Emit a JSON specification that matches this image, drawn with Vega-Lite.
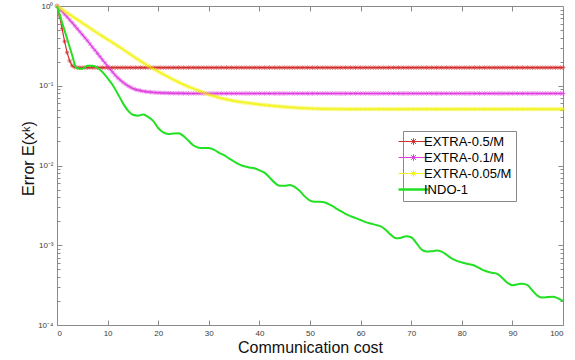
{
  "$schema": "https://vega.github.io/schema/vega-lite/v6.json",
  "width": 506,
  "height": 319,
  "autosize": {"type": "none"},
  "padding": {"left": 57, "top": 6, "right": 12, "bottom": 35},
  "background": "white",
  "config": {
    "view": {"stroke": "#8a8a8a", "strokeWidth": 1},
    "axis": {
      "grid": false,
      "domain": false,
      "tickColor": "#8a8a8a",
      "labelColor": "#3a3a3a",
      "labelFont": "Liberation Sans",
      "titleFont": "Liberation Sans",
      "titleFontWeight": "normal",
      "titleColor": "#111111"
    }
  },
  "datasets": {
    "extra": [
      {"x":0,"a":1,"b":1,"c":1},
      {"x":0.5,"a":0.75,"b":0.925,"c":0.952},
      {"x":1,"a":0.52,"b":0.855,"c":0.907},
      {"x":1.5,"a":0.36,"b":0.789,"c":0.863},
      {"x":2,"a":0.26,"b":0.728,"c":0.822},
      {"x":2.5,"a":0.205,"b":0.67,"c":0.783},
      {"x":3,"a":0.178,"b":0.617,"c":0.746},
      {"x":3.5,"a":0.171,"b":0.566,"c":0.71},
      {"x":4,"a":0.169,"b":0.519,"c":0.676},
      {"x":4.5,"a":0.169,"b":0.476,"c":0.644},
      {"x":5,"a":0.169,"b":0.437,"c":0.613},
      {"x":5.5,"a":0.169,"b":0.4,"c":0.583},
      {"x":6,"a":0.169,"b":0.367,"c":0.556},
      {"x":6.5,"a":0.169,"b":0.335,"c":0.53},
      {"x":7,"a":0.169,"b":0.305,"c":0.504},
      {"x":7.5,"a":0.169,"b":0.279,"c":0.48},
      {"x":8,"a":0.169,"b":0.254,"c":0.457},
      {"x":8.5,"a":0.169,"b":0.232,"c":0.437},
      {"x":9,"a":0.169,"b":0.211,"c":0.417},
      {"x":9.5,"a":0.169,"b":0.193,"c":0.398},
      {"x":10,"a":0.169,"b":0.176,"c":0.38},
      {"x":10.5,"a":0.169,"b":0.161,"c":0.363},
      {"x":11,"a":0.169,"b":0.148,"c":0.347},
      {"x":11.5,"a":0.169,"b":0.136,"c":0.331},
      {"x":12,"a":0.169,"b":0.126,"c":0.316},
      {"x":12.5,"a":0.169,"b":0.118,"c":0.301},
      {"x":13,"a":0.169,"b":0.111,"c":0.287},
      {"x":13.5,"a":0.169,"b":0.105,"c":0.273},
      {"x":14,"a":0.169,"b":0.1,"c":0.26},
      {"x":14.5,"a":0.169,"b":0.0959,"c":0.248},
      {"x":15,"a":0.169,"b":0.0923,"c":0.236},
      {"x":15.5,"a":0.169,"b":0.0899,"c":0.224},
      {"x":16,"a":0.169,"b":0.0881,"c":0.214},
      {"x":16.5,"a":0.169,"b":0.0867,"c":0.204},
      {"x":17,"a":0.169,"b":0.0855,"c":0.195},
      {"x":17.5,"a":0.169,"b":0.0845,"c":0.186},
      {"x":18,"a":0.169,"b":0.0838,"c":0.178},
      {"x":18.5,"a":0.169,"b":0.0832,"c":0.171},
      {"x":19,"a":0.169,"b":0.0826,"c":0.164},
      {"x":19.5,"a":0.169,"b":0.0822,"c":0.158},
      {"x":20,"a":0.169,"b":0.0818,"c":0.151},
      {"x":20.5,"a":0.169,"b":0.0815,"c":0.145},
      {"x":21,"a":0.169,"b":0.0813,"c":0.14},
      {"x":21.5,"a":0.169,"b":0.0811,"c":0.134},
      {"x":22,"a":0.169,"b":0.0809,"c":0.129},
      {"x":22.5,"a":0.169,"b":0.0807,"c":0.124},
      {"x":23,"a":0.169,"b":0.0805,"c":0.119},
      {"x":23.5,"a":0.169,"b":0.0805,"c":0.115},
      {"x":24,"a":0.169,"b":0.0804,"c":0.111},
      {"x":24.5,"a":0.169,"b":0.0803,"c":0.107},
      {"x":25,"a":0.169,"b":0.0802,"c":0.1035},
      {"x":25.5,"a":0.169,"b":0.0801,"c":0.1003},
      {"x":26,"a":0.169,"b":0.08,"c":0.0973},
      {"x":26.5,"a":0.169,"b":0.08,"c":0.0945},
      {"x":27,"a":0.169,"b":0.08,"c":0.0918},
      {"x":27.5,"a":0.169,"b":0.08,"c":0.0894},
      {"x":28,"a":0.169,"b":0.08,"c":0.0871},
      {"x":28.5,"a":0.169,"b":0.08,"c":0.0843},
      {"x":29,"a":0.169,"b":0.08,"c":0.0817},
      {"x":29.5,"a":0.169,"b":0.08,"c":0.0796},
      {"x":30,"a":0.169,"b":0.08,"c":0.0776},
      {"x":30.5,"a":0.169,"b":0.08,"c":0.0759},
      {"x":31,"a":0.169,"b":0.08,"c":0.0741},
      {"x":31.5,"a":0.169,"b":0.08,"c":0.0726},
      {"x":32,"a":0.169,"b":0.08,"c":0.0711},
      {"x":32.5,"a":0.169,"b":0.08,"c":0.0698},
      {"x":33,"a":0.169,"b":0.08,"c":0.0685},
      {"x":33.5,"a":0.169,"b":0.08,"c":0.0675},
      {"x":34,"a":0.169,"b":0.08,"c":0.0664},
      {"x":34.5,"a":0.169,"b":0.08,"c":0.0654},
      {"x":35,"a":0.169,"b":0.08,"c":0.0644},
      {"x":35.5,"a":0.169,"b":0.08,"c":0.0637},
      {"x":36,"a":0.169,"b":0.08,"c":0.063},
      {"x":36.5,"a":0.169,"b":0.08,"c":0.0623},
      {"x":37,"a":0.169,"b":0.08,"c":0.0617},
      {"x":37.5,"a":0.169,"b":0.08,"c":0.0611},
      {"x":38,"a":0.169,"b":0.08,"c":0.0605},
      {"x":38.5,"a":0.169,"b":0.08,"c":0.06},
      {"x":39,"a":0.169,"b":0.08,"c":0.0594},
      {"x":39.5,"a":0.169,"b":0.08,"c":0.0589},
      {"x":40,"a":0.169,"b":0.08,"c":0.0583},
      {"x":40.5,"a":0.169,"b":0.08,"c":0.0579},
      {"x":41,"a":0.169,"b":0.08,"c":0.0574},
      {"x":41.5,"a":0.169,"b":0.08,"c":0.0569},
      {"x":42,"a":0.169,"b":0.08,"c":0.0565},
      {"x":42.5,"a":0.169,"b":0.08,"c":0.0561},
      {"x":43,"a":0.169,"b":0.08,"c":0.0557},
      {"x":43.5,"a":0.169,"b":0.08,"c":0.0553},
      {"x":44,"a":0.169,"b":0.08,"c":0.055},
      {"x":44.5,"a":0.169,"b":0.08,"c":0.0546},
      {"x":45,"a":0.169,"b":0.08,"c":0.0543},
      {"x":45.5,"a":0.169,"b":0.08,"c":0.054},
      {"x":46,"a":0.169,"b":0.08,"c":0.0537},
      {"x":46.5,"a":0.169,"b":0.08,"c":0.0535},
      {"x":47,"a":0.169,"b":0.08,"c":0.0532},
      {"x":47.5,"a":0.169,"b":0.08,"c":0.0528},
      {"x":48,"a":0.169,"b":0.08,"c":0.0526},
      {"x":48.5,"a":0.169,"b":0.08,"c":0.0524},
      {"x":49,"a":0.169,"b":0.08,"c":0.0522},
      {"x":49.5,"a":0.169,"b":0.08,"c":0.0521},
      {"x":50,"a":0.169,"b":0.08,"c":0.0519},
      {"x":50.5,"a":0.169,"b":0.08,"c":0.0518},
      {"x":51,"a":0.169,"b":0.08,"c":0.0516},
      {"x":51.5,"a":0.169,"b":0.08,"c":0.0515},
      {"x":52,"a":0.169,"b":0.08,"c":0.0514},
      {"x":52.5,"a":0.169,"b":0.08,"c":0.0513},
      {"x":53,"a":0.169,"b":0.08,"c":0.0513},
      {"x":53.5,"a":0.169,"b":0.08,"c":0.0512},
      {"x":54,"a":0.169,"b":0.08,"c":0.0512},
      {"x":54.5,"a":0.169,"b":0.08,"c":0.0511},
      {"x":55,"a":0.169,"b":0.08,"c":0.0511},
      {"x":55.5,"a":0.169,"b":0.08,"c":0.051},
      {"x":56,"a":0.169,"b":0.08,"c":0.0509},
      {"x":56.5,"a":0.169,"b":0.08,"c":0.0509},
      {"x":57,"a":0.169,"b":0.08,"c":0.0509},
      {"x":57.5,"a":0.169,"b":0.08,"c":0.0509},
      {"x":58,"a":0.169,"b":0.08,"c":0.0509},
      {"x":58.5,"a":0.169,"b":0.08,"c":0.0509},
      {"x":59,"a":0.169,"b":0.08,"c":0.0509},
      {"x":59.5,"a":0.169,"b":0.08,"c":0.0509},
      {"x":60,"a":0.169,"b":0.08,"c":0.0509},
      {"x":60.5,"a":0.169,"b":0.08,"c":0.0509},
      {"x":61,"a":0.169,"b":0.08,"c":0.0509},
      {"x":61.5,"a":0.169,"b":0.08,"c":0.0509},
      {"x":62,"a":0.169,"b":0.08,"c":0.0509},
      {"x":62.5,"a":0.169,"b":0.08,"c":0.0509},
      {"x":63,"a":0.169,"b":0.08,"c":0.0509},
      {"x":63.5,"a":0.169,"b":0.08,"c":0.0509},
      {"x":64,"a":0.169,"b":0.08,"c":0.0509},
      {"x":64.5,"a":0.169,"b":0.08,"c":0.0509},
      {"x":65,"a":0.169,"b":0.08,"c":0.0509},
      {"x":65.5,"a":0.169,"b":0.08,"c":0.0509},
      {"x":66,"a":0.169,"b":0.08,"c":0.0509},
      {"x":66.5,"a":0.169,"b":0.08,"c":0.0509},
      {"x":67,"a":0.169,"b":0.08,"c":0.0509},
      {"x":67.5,"a":0.169,"b":0.08,"c":0.0509},
      {"x":68,"a":0.169,"b":0.08,"c":0.0509},
      {"x":68.5,"a":0.169,"b":0.08,"c":0.0509},
      {"x":69,"a":0.169,"b":0.08,"c":0.0509},
      {"x":69.5,"a":0.169,"b":0.08,"c":0.0509},
      {"x":70,"a":0.169,"b":0.08,"c":0.0509},
      {"x":70.5,"a":0.169,"b":0.08,"c":0.0509},
      {"x":71,"a":0.169,"b":0.08,"c":0.0509},
      {"x":71.5,"a":0.169,"b":0.08,"c":0.0509},
      {"x":72,"a":0.169,"b":0.08,"c":0.0509},
      {"x":72.5,"a":0.169,"b":0.08,"c":0.0509},
      {"x":73,"a":0.169,"b":0.08,"c":0.0509},
      {"x":73.5,"a":0.169,"b":0.08,"c":0.0509},
      {"x":74,"a":0.169,"b":0.08,"c":0.0509},
      {"x":74.5,"a":0.169,"b":0.08,"c":0.0509},
      {"x":75,"a":0.169,"b":0.08,"c":0.0509},
      {"x":75.5,"a":0.169,"b":0.08,"c":0.0509},
      {"x":76,"a":0.169,"b":0.08,"c":0.0509},
      {"x":76.5,"a":0.169,"b":0.08,"c":0.0509},
      {"x":77,"a":0.169,"b":0.08,"c":0.0509},
      {"x":77.5,"a":0.169,"b":0.08,"c":0.0509},
      {"x":78,"a":0.169,"b":0.08,"c":0.0509},
      {"x":78.5,"a":0.169,"b":0.08,"c":0.0509},
      {"x":79,"a":0.169,"b":0.08,"c":0.0509},
      {"x":79.5,"a":0.169,"b":0.08,"c":0.0509},
      {"x":80,"a":0.169,"b":0.08,"c":0.0509},
      {"x":80.5,"a":0.169,"b":0.08,"c":0.0509},
      {"x":81,"a":0.169,"b":0.08,"c":0.0509},
      {"x":81.5,"a":0.169,"b":0.08,"c":0.0509},
      {"x":82,"a":0.169,"b":0.08,"c":0.0509},
      {"x":82.5,"a":0.169,"b":0.08,"c":0.0509},
      {"x":83,"a":0.169,"b":0.08,"c":0.0509},
      {"x":83.5,"a":0.169,"b":0.08,"c":0.0509},
      {"x":84,"a":0.169,"b":0.08,"c":0.0509},
      {"x":84.5,"a":0.169,"b":0.08,"c":0.0509},
      {"x":85,"a":0.169,"b":0.08,"c":0.0509},
      {"x":85.5,"a":0.169,"b":0.08,"c":0.0509},
      {"x":86,"a":0.169,"b":0.08,"c":0.0509},
      {"x":86.5,"a":0.169,"b":0.08,"c":0.0509},
      {"x":87,"a":0.169,"b":0.08,"c":0.0509},
      {"x":87.5,"a":0.169,"b":0.08,"c":0.0509},
      {"x":88,"a":0.169,"b":0.08,"c":0.0509},
      {"x":88.5,"a":0.169,"b":0.08,"c":0.0509},
      {"x":89,"a":0.169,"b":0.08,"c":0.0509},
      {"x":89.5,"a":0.169,"b":0.08,"c":0.0509},
      {"x":90,"a":0.169,"b":0.08,"c":0.0509},
      {"x":90.5,"a":0.169,"b":0.08,"c":0.0509},
      {"x":91,"a":0.169,"b":0.08,"c":0.0509},
      {"x":91.5,"a":0.169,"b":0.08,"c":0.0509},
      {"x":92,"a":0.169,"b":0.08,"c":0.0509},
      {"x":92.5,"a":0.169,"b":0.08,"c":0.0509},
      {"x":93,"a":0.169,"b":0.08,"c":0.0509},
      {"x":93.5,"a":0.169,"b":0.08,"c":0.0509},
      {"x":94,"a":0.169,"b":0.08,"c":0.0509},
      {"x":94.5,"a":0.169,"b":0.08,"c":0.0509},
      {"x":95,"a":0.169,"b":0.08,"c":0.0509},
      {"x":95.5,"a":0.169,"b":0.08,"c":0.0509},
      {"x":96,"a":0.169,"b":0.08,"c":0.0509},
      {"x":96.5,"a":0.169,"b":0.08,"c":0.0509},
      {"x":97,"a":0.169,"b":0.08,"c":0.0509},
      {"x":97.5,"a":0.169,"b":0.08,"c":0.0509},
      {"x":98,"a":0.169,"b":0.08,"c":0.0509},
      {"x":98.5,"a":0.169,"b":0.08,"c":0.0509},
      {"x":99,"a":0.169,"b":0.08,"c":0.0509},
      {"x":99.5,"a":0.169,"b":0.08,"c":0.0509},
      {"x":100,"a":0.169,"b":0.08,"c":0.0509}
    ],
    "indo": [
      {"s":"d","x":0,"y":1},
      {"s":"d","x":1,"y":0.622},
      {"s":"d","x":2,"y":0.389},
      {"s":"d","x":3,"y":0.2415},
      {"s":"d","x":3.7,"y":0.1718},
      {"s":"d","x":4,"y":0.166},
      {"s":"d","x":5,"y":0.163},
      {"s":"d","x":6,"y":0.178},
      {"s":"d","x":7,"y":0.1786},
      {"s":"d","x":8,"y":0.168},
      {"s":"d","x":9,"y":0.148},
      {"s":"d","x":10,"y":0.1245},
      {"s":"d","x":11,"y":0.1023},
      {"s":"d","x":12,"y":0.0794},
      {"s":"d","x":13,"y":0.061},
      {"s":"d","x":14,"y":0.049},
      {"s":"d","x":15,"y":0.0432},
      {"s":"d","x":16,"y":0.0422},
      {"s":"d","x":17,"y":0.0435},
      {"s":"d","x":18,"y":0.0407},
      {"s":"d","x":19,"y":0.0363},
      {"s":"d","x":20,"y":0.0295},
      {"s":"d","x":21,"y":0.026},
      {"s":"d","x":22,"y":0.0249},
      {"s":"d","x":23,"y":0.0252},
      {"s":"d","x":24,"y":0.0254},
      {"s":"d","x":25,"y":0.0234},
      {"s":"d","x":26,"y":0.0204},
      {"s":"d","x":27,"y":0.0178},
      {"s":"d","x":28,"y":0.01675},
      {"s":"d","x":29,"y":0.0166},
      {"s":"d","x":30,"y":0.0166},
      {"s":"d","x":31,"y":0.01585},
      {"s":"d","x":32,"y":0.01445},
      {"s":"d","x":33,"y":0.01349},
      {"s":"d","x":34,"y":0.0123},
      {"s":"d","x":35,"y":0.01122},
      {"s":"d","x":36,"y":0.01035},
      {"s":"d","x":37,"y":0.00977},
      {"s":"d","x":38,"y":0.00944},
      {"s":"d","x":39,"y":0.00923},
      {"s":"d","x":40,"y":0.00871},
      {"s":"d","x":41,"y":0.00813},
      {"s":"d","x":42,"y":0.00708},
      {"s":"d","x":43,"y":0.0061},
      {"s":"d","x":44,"y":0.00556},
      {"s":"d","x":45,"y":0.00556},
      {"s":"d","x":46,"y":0.00569},
      {"s":"d","x":47,"y":0.00537},
      {"s":"d","x":48,"y":0.00479},
      {"s":"d","x":49,"y":0.00407},
      {"s":"d","x":50,"y":0.00363},
      {"s":"d","x":51,"y":0.00351},
      {"s":"d","x":52,"y":0.00351},
      {"s":"d","x":53,"y":0.00343},
      {"s":"d","x":54,"y":0.0032},
      {"s":"d","x":55,"y":0.00295},
      {"s":"d","x":56,"y":0.00269},
      {"s":"d","x":57,"y":0.00248},
      {"s":"d","x":58,"y":0.00232},
      {"s":"d","x":59,"y":0.00219},
      {"s":"d","x":60,"y":0.00207},
      {"s":"d","x":61,"y":0.00195},
      {"s":"d","x":62,"y":0.00187},
      {"s":"d","x":63,"y":0.0018},
      {"s":"d","x":64,"y":0.00172},
      {"s":"d","x":65,"y":0.00155},
      {"s":"d","x":66,"y":0.00135},
      {"s":"d","x":67,"y":0.00122},
      {"s":"d","x":68,"y":0.00124},
      {"s":"d","x":69,"y":0.0013},
      {"s":"d","x":70,"y":0.00126},
      {"s":"d","x":71,"y":0.00107},
      {"s":"d","x":72,"y":0.000891},
      {"s":"d","x":73,"y":0.000832},
      {"s":"d","x":74,"y":0.000841},
      {"s":"d","x":75,"y":0.000859},
      {"s":"d","x":76,"y":0.000832},
      {"s":"d","x":77,"y":0.000759},
      {"s":"d","x":78,"y":0.000684},
      {"s":"d","x":79,"y":0.000638},
      {"s":"d","x":80,"y":0.00061},
      {"s":"d","x":81,"y":0.000586},
      {"s":"d","x":82,"y":0.000569},
      {"s":"d","x":83,"y":0.000537},
      {"s":"d","x":84,"y":0.000495},
      {"s":"d","x":85,"y":0.000468},
      {"s":"d","x":86,"y":0.000452},
      {"s":"d","x":87,"y":0.000437},
      {"s":"d","x":88,"y":0.000389},
      {"s":"d","x":89,"y":0.000339},
      {"s":"d","x":90,"y":0.000316},
      {"s":"d","x":91,"y":0.000324},
      {"s":"d","x":92,"y":0.00033},
      {"s":"d","x":93,"y":0.000316},
      {"s":"d","x":94,"y":0.000269},
      {"s":"d","x":95,"y":0.000232},
      {"s":"d","x":96,"y":0.000221},
      {"s":"d","x":97,"y":0.000224},
      {"s":"d","x":98,"y":0.000226},
      {"s":"d","x":99,"y":0.000216},
      {"s":"d","x":100,"y":0.000201}
    ]
  },
  "resolve": {"axis": {"x": "independent", "y": "independent"}},
  "layer": [
    {
      "data": {"name": "extra"},
      "transform": [{"fold": ["a", "b", "c"], "as": ["s", "y"]}],
      "mark": {"type": "line", "strokeWidth": 1.2},
      "encoding": {
        "x": {
          "field": "x", "type": "quantitative",
          "scale": {"domain": [0, 100], "nice": false, "zero": false},
          "axis": {
            "orient": "bottom", "values": [0,10,20,30,40,50,60,70,80,90,100],
            "tickSize": -5, "labelPadding": 9, "labelFontSize": 8,
            "title": "Communication cost", "titleFontSize": 16,
            "titleBaseline": "alphabetic", "titleY": 27
          }
        },
        "y": {
          "field": "y", "type": "quantitative",
          "scale": {"type": "log", "domain": [0.0001, 1], "nice": false},
          "axis": {
            "orient": "left", "values": [0.0001, 0.001, 0.01, 0.1, 1],
            "tickSize": -5, "labelPadding": 9, "labelFontSize": 8,
            "labelExpr": "datum.value > 0.5 ? '10⁰' : datum.value > 0.05 ? '10⁻¹' : datum.value > 0.005 ? '10⁻²' : datum.value > 0.0005 ? '10⁻³' : '10⁻⁴'",
            "title": "Error E(xᵏ)", "titleFontSize": 16,
            "titleBaseline": "alphabetic", "titleAlign": "center",
            "titleX": -24, "titleY": 152
          }
        },
        "color": {
          "field": "s", "type": "nominal",
          "scale": {"domain": ["a", "b", "c", "d"], "range": ["#d42f2f", "#e03ee0", "#f4f41c", "#22e022"]},
          "legend": {
            "orient": "none", "legendX": 346, "legendY": 125,
            "title": null,
            "labelExpr": "{'a': 'EXTRA-0.5/M', 'b': 'EXTRA-0.1/M', 'c': 'EXTRA-0.05/M', 'd': 'INDO-1'}[datum.label]",
            "labelFont": "Liberation Sans", "labelFontSize": 13, "labelColor": "#000000",
            "labelOffset": 4, "labelLimit": 300,
            "symbolSize": 900, "symbolFillColor": "transparent", "symbolStrokeWidth": 1,
            "padding": 4, "rowPadding": 2,
            "strokeColor": "#8a8a8a", "fillColor": "white",
            "encode": {
              "symbols": {
                "update": {
                  "shape": {"signal": "datum.value === 'd' ? 'M-1,0H1' : 'M-1,0H1M-0.16,-0.16L0.16,0.16M-0.16,0.16L0.16,-0.16M0,-0.22V0.22'"},
                  "strokeWidth": {"signal": "datum.value === 'd' ? 2.5 : 1"},
                  "fill": {"value": "transparent"}
                }
              }
            }
          }
        }
      }
    },
    {
      "data": {"name": "extra"},
      "transform": [{"fold": ["a", "b", "c"], "as": ["s", "y"]}],
      "mark": {
        "type": "point", "filled": false, "size": 20, "strokeWidth": 0.9,
        "shape": "M-1,0H1M0,-1V1M-0.7,-0.7L0.7,0.7M-0.7,0.7L0.7,-0.7"
      },
      "encoding": {
        "x": {
          "field": "x", "type": "quantitative",
          "axis": {"orient": "top", "values": [10,20,30,40,50,60,70,80,90], "tickSize": -5, "labels": false, "title": null}
        },
        "y": {
          "field": "y", "type": "quantitative",
          "axis": {"orient": "right", "values": [0.001, 0.01, 0.1], "tickSize": -5, "labels": false, "title": null}
        },
        "color": {"field": "s", "type": "nominal"}
      }
    },
    {
      "data": {"name": "indo"},
      "mark": {"type": "line", "strokeWidth": 2, "interpolate": "monotone"},
      "encoding": {
        "x": {"field": "x", "type": "quantitative", "axis": null},
        "y": {
          "field": "y", "type": "quantitative",
          "axis": {
            "orient": "left", "tickSize": -3, "labels": false, "title": null,
            "values": [0.0002,0.0003,0.0004,0.0005,0.0006,0.0007,0.0008,0.0009,0.002,0.003,0.004,0.005,0.006,0.007,0.008,0.009,0.02,0.03,0.04,0.05,0.06,0.07,0.08,0.09,0.2,0.3,0.4,0.5,0.6,0.7,0.8,0.9]
          }
        },
        "color": {"field": "s", "type": "nominal"}
      }
    },
    {
      "data": {"name": "indo"},
      "mark": {"type": "point", "opacity": 0},
      "encoding": {
        "x": {"field": "x", "type": "quantitative", "axis": null},
        "y": {
          "field": "y", "type": "quantitative",
          "axis": {
            "orient": "right", "tickSize": -3, "labels": false, "title": null,
            "values": [0.0002,0.0003,0.0004,0.0005,0.0006,0.0007,0.0008,0.0009,0.002,0.003,0.004,0.005,0.006,0.007,0.008,0.009,0.02,0.03,0.04,0.05,0.06,0.07,0.08,0.09,0.2,0.3,0.4,0.5,0.6,0.7,0.8,0.9]
          }
        }
      }
    }
  ]
}
